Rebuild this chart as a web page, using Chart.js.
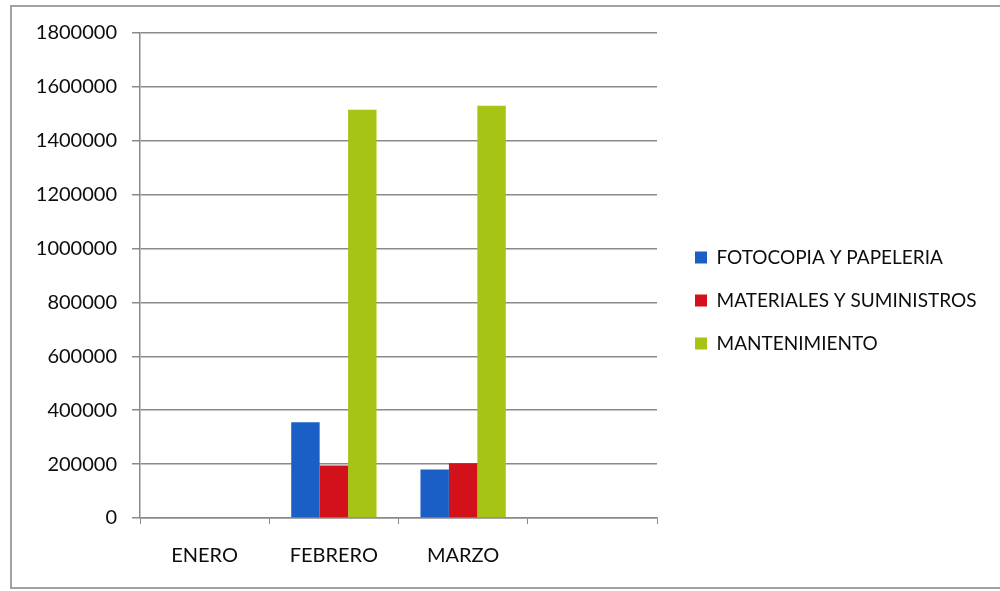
<!DOCTYPE html>
<html>
<head>
<meta charset="utf-8">
<script src="https://cdn.jsdelivr.net/npm/chart.js@4"></script>
<style>
  html, body { margin: 0; padding: 0; background: #fff; }
  #wrap { position: relative; width: 1000px; height: 591px; overflow: hidden; }
  #frame { position: absolute; left: 10px; top: 5px; width: 1000px; height: 584px; border: 2px solid #a2a2a2; box-sizing: border-box; }
  canvas { position: absolute; left: 0; top: 0; }
</style>
</head>
<body>
<div id="wrap">
  <div id="frame"></div>
  <canvas id="chart" width="1000" height="591"></canvas>
</div>
<script>
const months = ["ENERO", "FEBRERO", "MARZO", ""];
const fotocopia = [0, 355000, 180000, null];
const materiales = [0, 195000, 203000, null];
const mantenimiento = [0, 1515000, 1530000, null];
const yTicks = [0, 200000, 400000, 600000, 800000, 1000000, 1200000, 1400000, 1600000, 1800000];

const font = "Lato, 'Open Sans', sans-serif";
const PLOT_LEFT = 140;
const LEGEND_W = 343;     // legend column width, plot ends at 1000 - 343
const LEGEND_SHIFT = 14;  // gap between plot edge and legend column
const LEGEND_LIFT = 10;   // legend sits a bit above the page middle

// fixed legend column width instead of the measured one
const legendPlacement = {
  id: "legendPlacement",
  beforeLayout(chart) {
    const lg = chart.legend;
    if (lg && !lg._fixed) {
      const fit = lg.fit;
      lg.fit = function () { fit.call(this); this.width = LEGEND_W; };
      lg._fixed = true;
    }
  },
  afterLayout(chart) {
    chart.legend.left += LEGEND_SHIFT;
    chart.legend.top -= LEGEND_LIFT;
    chart.legend.bottom -= LEGEND_LIFT;
  }
};

new Chart(document.getElementById("chart").getContext("2d"), {
  type: "bar",
  data: {
    labels: months,
    datasets: [
      { label: "FOTOCOPIA Y PAPELERIA", data: fotocopia, backgroundColor: "#1b5ec6" },
      { label: "MATERIALES Y SUMINISTROS", data: materiales, backgroundColor: "#d3111b" },
      { label: "MANTENIMIENTO", data: mantenimiento, backgroundColor: "#a6c414" }
    ]
  },
  plugins: [legendPlacement],
  options: {
    responsive: false,
    animation: false,
    datasets: { bar: { categoryPercentage: 0.66, barPercentage: 1 } },
    layout: { padding: { top: 33, left: 0, right: 0, bottom: 3 } },
    plugins: {
      tooltip: { enabled: false },
      legend: {
        position: "right",
        labels: {
          boxWidth: 12,
          boxHeight: 12,
          padding: 24,
          color: "#0d0d0d",
          font: { family: font, size: 19 }
        }
      }
    },
    scales: {
      x: {
        grid: { offset: true, drawOnChartArea: false, drawTicks: true, tickLength: 6, color: "#8a8a8a" },
        border: { color: "#8a8a8a", width: 1.5 },
        ticks: { color: "#0d0d0d", padding: 20, font: { family: font, size: 20 } }
      },
      y: {
        min: 0,
        max: 1800000,
        afterBuildTicks: axis => { axis.ticks = yTicks.map(v => ({ value: v })); },
        afterFit: axis => { axis.width = PLOT_LEFT; },
        grid: { color: "#8a8a8a", lineWidth: 1.5, tickLength: 8 },
        border: { color: "#8a8a8a", width: 1.5 },
        ticks: { color: "#0d0d0d", padding: 15, font: { family: font, size: 20 }, callback: v => String(v) }
      }
    }
  }
});
</script>
</body>
</html>
